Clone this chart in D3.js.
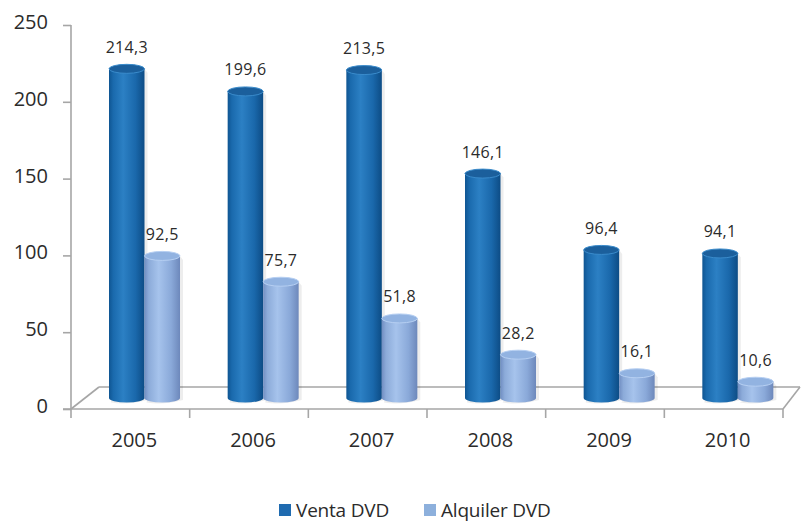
<!DOCTYPE html>
<html>
<head>
<meta charset="utf-8">
<script src="https://cdn.jsdelivr.net/npm/d3@7/dist/d3.min.js"></script>
<style>
  html, body { margin: 0; padding: 0; background: #fff; }
  svg { display: block; }
  text { font-family: "Open Sans", "Noto Sans", sans-serif; fill: #2b2b2b; }
</style>
</head>
<body>
<svg id="chart" width="801" height="523"></svg>
<script>
// Data
const years = ["2005", "2006", "2007", "2008", "2009", "2010"];
const venta = [214.3, 199.6, 213.5, 146.1, 96.4, 94.1];
const alquiler = [92.5, 75.7, 51.8, 28.2, 16.1, 10.6];
const seriesNames = ["Venta DVD", "Alquiler DVD"];
const yTicks = [0, 50, 100, 150, 200, 250];

const svg = d3.select("#chart");

// Plot frame
const axisX = 71;          // vertical value axis
const frontY = 409;        // front floor edge
const plotRight = 783;
const depthX = 28, depthY = -22;  // floor depth offset (back edge)
const barShiftX = 38, barShiftY = -11; // bars sit mid-depth

const x = d3.scaleBand().domain(years).range([axisX, plotRight]).paddingInner(0).paddingOuter(0);
const y = d3.scaleLinear().domain([0, 250]).range([frontY, 25]);
const sub = d3.scaleBand().domain(seriesNames).range([0, 71]).padding(0);

const gridColor = "#a6a6a6";

// Gradients for cylinder shading
const defs = svg.append("defs");
const palettes = {
  "Venta DVD": { stops: [["0%", "#0f5592"], ["12%", "#1a6aad"], ["40%", "#2c80c4"], ["75%", "#1a68ab"], ["100%", "#0d4c85"]], top: "#1b5f9c", topRim: "#3a8bcb", legend: "#1f6bb0" },
  "Alquiler DVD": { stops: [["0%", "#718ec2"], ["12%", "#8cabd9"], ["40%", "#a6c3ec"], ["75%", "#8aa9d9"], ["100%", "#6d88bb"]], top: "#92b3e1", topRim: "#b6cff2", legend: "#8db0dc" }
};
seriesNames.forEach((s, i) => {
  const g = defs.append("linearGradient").attr("id", "grad" + i).attr("x1", "0%").attr("x2", "100%").attr("y1", "0%").attr("y2", "0%");
  palettes[s].stops.forEach(([o, c]) => g.append("stop").attr("offset", o).attr("stop-color", c));
});

// Floor (3D base)
const floor = svg.append("g").attr("stroke", gridColor).attr("stroke-width", 1.6).attr("fill", "none");
floor.append("line").attr("x1", axisX + depthX).attr("y1", frontY + depthY).attr("x2", plotRight + 17).attr("y2", frontY + depthY);
floor.append("line").attr("x1", axisX).attr("y1", frontY).attr("x2", axisX + depthX).attr("y2", frontY + depthY);
floor.append("line").attr("x1", plotRight).attr("y1", frontY).attr("x2", plotRight + 17).attr("y2", frontY + depthY);

// Value axis
const yAxis = svg.append("g").attr("transform", `translate(${axisX},0)`)
  .call(d3.axisLeft(y).tickValues(yTicks).tickSize(8).tickPadding(12).tickFormat(d3.format("d")));
yAxis.select(".domain").attr("stroke", gridColor).attr("stroke-width", 1.6).attr("d", `M0,25V${frontY + 9}`);
yAxis.selectAll(".tick line").attr("stroke", gridColor).attr("stroke-width", 1.6);
yAxis.selectAll(".tick text").attr("font-size", 20).attr("fill", "#2b2b2b").attr("dy", "0.32em").attr("y", -3).attr("x", -23);

// Category axis
const xAxis = svg.append("g").attr("transform", `translate(0,${frontY})`)
  .call(d3.axisBottom(x).tickSize(0).tickPadding(24));
xAxis.select(".domain").attr("stroke", gridColor).attr("stroke-width", 1.6).attr("d", `M${axisX - 8},0H${plotRight}`);
xAxis.selectAll(".tick text").attr("font-size", 20).attr("fill", "#2b2b2b").attr("dx", 4);
// Tick marks at category boundaries
svg.append("g").selectAll("line").data(years.slice(1).concat(["end"]))
  .join("line")
  .attr("x1", d => d === "end" ? plotRight : x(d))
  .attr("x2", d => d === "end" ? plotRight : x(d))
  .attr("y1", frontY).attr("y2", frontY + 9)
  .attr("stroke", gridColor).attr("stroke-width", 1.6);

// Cylinders
const ry = 4.5;
const rows = [];
years.forEach((yr, i) => {
  rows.push({ year: yr, series: seriesNames[0], si: 0, value: venta[i] });
  rows.push({ year: yr, series: seriesNames[1], si: 1, value: alquiler[i] });
});

const barsG = svg.append("g");
const bars = barsG.selectAll("g.bar").data(rows).join("g").attr("class", "bar")
  .attr("transform", d => `translate(${x(d.year) + barShiftX + sub(d.series)},${barShiftY})`);

const bw = sub.bandwidth();
bars.each(function(d) {
  const g = d3.select(this);
  const top = y(d.value), base = y(0);
  const pal = palettes[d.series];
  // soft shadow on the right
  g.append("path")
    .attr("d", `M${bw},${top}L${bw + 3},${top + 4}L${bw + 3},${base + 2}Q${bw / 2},${base + ry + 3} 2,${base + ry}Z`)
    .attr("fill", "#000").attr("opacity", 0.07);
  // body with rounded bottom
  g.append("path")
    .attr("d", `M0,${top}L0,${base}A${bw / 2},${ry} 0 0 0 ${bw},${base}L${bw},${top}Z`)
    .attr("fill", `url(#grad${d.si})`);
  // top cap
  g.append("ellipse").attr("cx", bw / 2).attr("cy", top).attr("rx", bw / 2).attr("ry", ry)
    .attr("fill", pal.top).attr("stroke", pal.topRim).attr("stroke-width", 1);
});

// Value labels
const fmt = v => d3.format(".1f")(v).replace(".", ",");
barsG.selectAll("text.val").data(rows).join("text").attr("class", "val")
  .attr("x", d => x(d.year) + barShiftX + sub(d.series) + bw / 2)
  .attr("y", d => y(d.value) + barShiftY - 16)
  .attr("text-anchor", "middle").attr("font-size", 16).attr("letter-spacing", 0.3)
  .text(d => fmt(d.value));

// Legend
const legend = svg.append("g").attr("transform", "translate(0,510)");
const legendX = [279, 424];
seriesNames.forEach((s, i) => {
  legend.append("rect").attr("x", legendX[i]).attr("y", -6).attr("width", 12).attr("height", 12).attr("fill", palettes[s].legend);
  legend.append("text").attr("x", legendX[i] + 17).attr("y", 0).attr("dy", "0.35em")
    .attr("font-size", 19).attr("fill", "#2b2b2b").attr("letter-spacing", -0.2).text(s);
});
</script>
</body>
</html>
